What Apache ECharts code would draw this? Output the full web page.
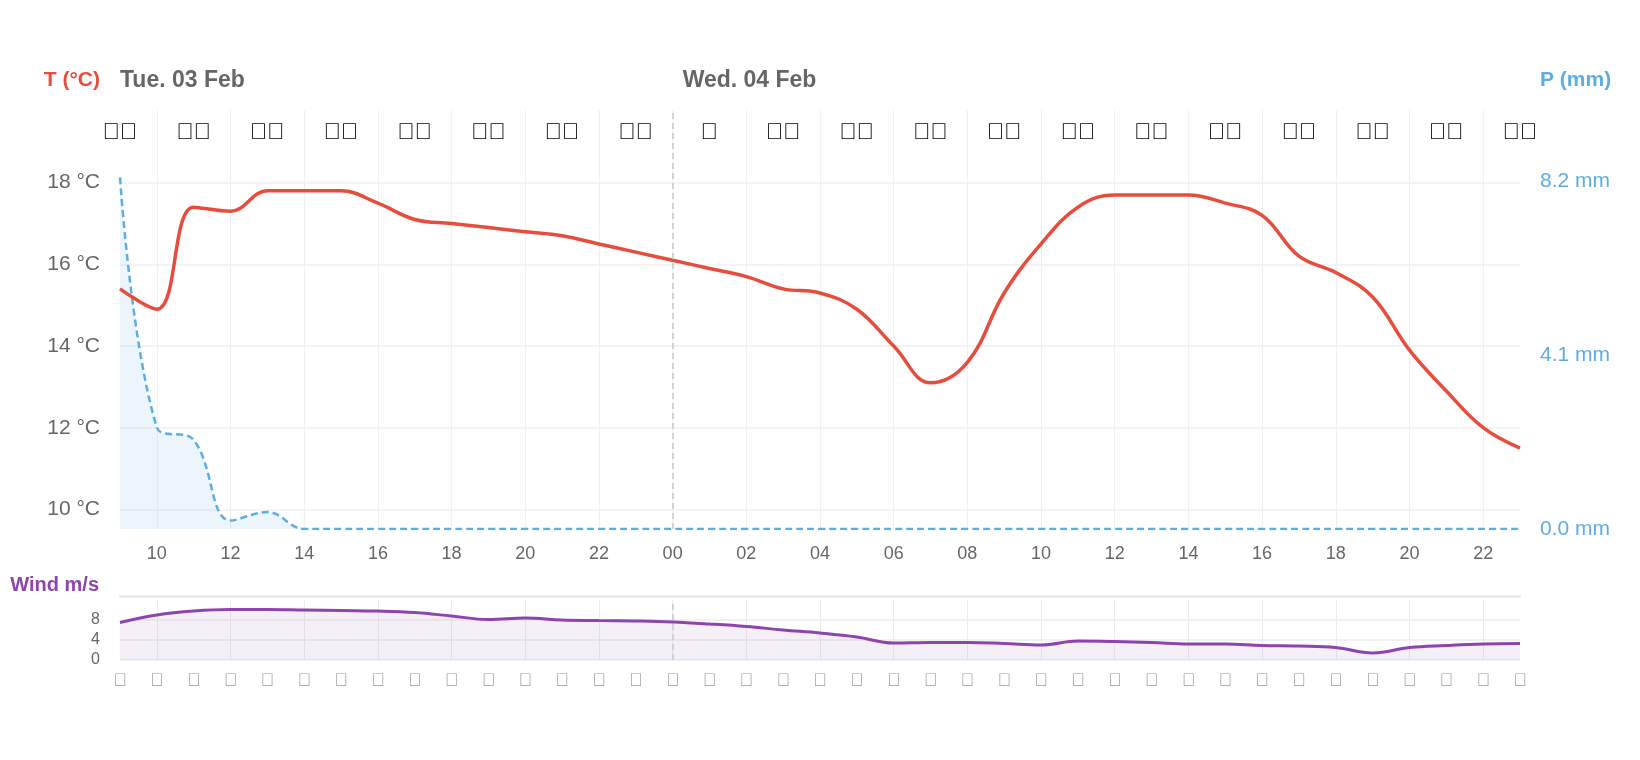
<!DOCTYPE html>
<html>
<head>
<meta charset="utf-8">
<script src="https://cdn.jsdelivr.net/npm/echarts@6/dist/echarts.min.js"></script>
<style>
html,body{margin:0;padding:0;background:#fff;}
#chart{width:1640px;height:760px;}
</style>
</head>
<body>
<div id="chart"></div>
<script>
// ---- data ----
const days = ['03', '04'];
const dayLabels = ['Tue. 03 Feb', 'Wed. 04 Feb'];
const hours = ['09','10','11','12','13','14','15','16','17','18','19','20','21','22','23',
  '00','01','02','03','04','05','06','07','08','09','10','11','12','13','14','15','16','17','18','19','20','21','22','23'];
const temperature = [15.4,14.9,17.4,17.3,17.8,17.8,17.8,17.5,17.1,17.0,16.9,16.8,16.7,16.5,16.3,
  16.1,15.9,15.7,15.4,15.3,14.9,14.0,13.1,13.6,15.3,16.5,17.4,17.7,17.7,17.7,17.5,17.2,16.2,15.8,15.2,13.9,12.9,12.0,11.5];
const precipitation = [8.3,2.4,2.1,0.2,0.4,0,0,0,0,0,0,0,0,0,0,
  0,0,0,0,0,0,0,0,0,0,0,0,0,0,0,0,0,0,0,0,0,0,0,0];
const wind = [7.5,9.0,9.8,10.1,10.1,10.0,9.9,9.8,9.5,8.8,8.1,8.4,8.0,7.9,7.8,
  7.6,7.2,6.7,6.0,5.4,4.6,3.4,3.5,3.5,3.3,3.0,3.8,3.7,3.5,3.2,3.2,2.9,2.8,2.5,1.4,2.5,2.9,3.2,3.3];
// weather symbols (icon-font glyphs) every two hours, odd hours
const symbols = ['\uE019\uE01A','\uE019\uE01A','\uE009\uE01A','\uE013\uE01A','\uE013\uE01A','\uE013\uE01A','\uE013\uE01A','\uE013\uE01A',
  '\uE02E','\uE013\uE01A','\uE013\uE01A','\uE013\uE01A','\uE002\uE01A','\uE002\uE01A','\uE002\uE01A','\uE002\uE01A',
  '\uE013\uE01A','\uE013\uE01A','\uE013\uE01A','\uE013\uE01A'];
// wind direction glyphs (icon font) per hour
const windDir = ['\uE0B1','\uE0B1','\uE0B1','\uE0B1','\uE0B1','\uE0B1','\uE0B1','\uE0B1','\uE0B1','\uE0B1','\uE0B1','\uE0B1','\uE0B1','\uE0B1','\uE0B1',
  '\uE0B1','\uE0B1','\uE0B1','\uE0B1','\uE0B1','\uE0B1','\uE0B1','\uE0B1','\uE0B1','\uE0B1','\uE0B1','\uE0B1','\uE0B1','\uE0B1','\uE0B1',
  '\uE0B1','\uE0B1','\uE0B1','\uE0B1','\uE0B1','\uE0B1','\uE0B1','\uE0B1','\uE0B1'];
const tempTicks = [10, 12, 14, 16, 18];
const precipTicks = [0, 4.1, 8.2];
const windTicks = [0, 4, 8];

// ---- derived ----
let d = 0;
const times = hours.map((h, i) => { if (i > 0 && h === '00') d++; return days[d] + ' ' + h; });
const midnight = times[hours.indexOf('00')];
const dayStart = [times[0], midnight];

const FONT = '"Liberation Sans", Arial, Helvetica, sans-serif';
const RED = '#e74c3c', BLUE = '#5dade2', PURPLE = '#8e44ad', GRAY = '#666';

const chart = echarts.init(document.getElementById('chart'));
const midLine = {
  symbol: 'none', silent: true, label: { show: false },
  lineStyle: { color: '#d2d2d6', type: [6, 4], width: 2 },
  data: [{ xAxis: midnight }]
};
chart.setOption({
  animation: false,
  textStyle: { fontFamily: FONT },
  grid: [
    { left: 120, right: 120, top: 110, height: 419 },
    { left: 120, right: 120, top: 600, height: 60 }
  ],
  xAxis: [
    { type: 'category', gridIndex: 0, data: times, boundaryGap: false,
      axisLine: { show: false, onZero: false }, axisTick: { show: false },
      axisLabel: { interval: (i) => i % 2 === 1, formatter: v => v.slice(3), color: GRAY, fontSize: 18, margin: 16, fontFamily: FONT },
      splitLine: { show: true, interval: (i) => i % 2 === 1, lineStyle: { color: '#f0f0f0', width: 1 } } },
    { type: 'category', gridIndex: 0, data: times, boundaryGap: false, position: 'top',
      axisLine: { show: false, onZero: false }, axisTick: { show: false },
      axisLabel: { interval: (i) => dayStart.indexOf(times[i]) >= 0,
        formatter: v => { const k = dayStart.indexOf(v); return k === 0 ? '{a|' + dayLabels[0] + '}' : (k > 0 ? '{b|' + dayLabels[k] + '}' : ''); },
        align: 'left', margin: 18, showMinLabel: true,
        rich: { a: { color: GRAY, fontSize: 23, fontWeight: 'bold', fontFamily: FONT },
                b: { color: GRAY, fontSize: 23, fontWeight: 'bold', fontFamily: FONT, padding: [0, 0, 0, 10] } } },
      splitLine: { show: false } },
    { type: 'category', gridIndex: 0, data: times, boundaryGap: false, position: 'top',
      axisLine: { show: false, onZero: false }, axisTick: { show: false },
      axisLabel: { inside: true, interval: (i) => i % 2 === 0,
        formatter: (v, i) => symbols[i / 2], color: '#000', fontSize: 23, fontWeight: 'bold', margin: 11, showMinLabel: true, showMaxLabel: true },
      splitLine: { show: false } },
    { type: 'category', gridIndex: 1, data: times, boundaryGap: false,
      axisLine: { show: false, onZero: false }, axisTick: { show: false },
      axisLabel: { interval: 0, formatter: (v, i) => windDir[i], color: '#999', fontSize: 18, margin: 12, showMinLabel: true, showMaxLabel: true },
      splitLine: { show: true, interval: (i) => i % 2 === 1, lineStyle: { color: '#ececec', width: 1 } } },
    { type: 'category', gridIndex: 1, data: times, boundaryGap: false, position: 'top', offset: 4,
      axisLine: { show: true, onZero: false, lineStyle: { color: '#e6e6e6', width: 2.5 } }, axisTick: { show: false },
      axisLabel: { show: false }, splitLine: { show: false } }
  ],
  yAxis: [
    { type: 'value', gridIndex: 0, min: 9.52, max: 19.78,
      name: 'T (°C)', nameLocation: 'end', nameGap: 19,
      nameTextStyle: { color: RED, fontSize: 21, fontWeight: 'bold', align: 'right', padding: [0, 20, 0, 0], fontFamily: FONT },
      axisLine: { show: false }, axisTick: { show: false, customValues: tempTicks },
      axisLabel: { customValues: tempTicks, formatter: '{value} °C', color: GRAY, fontSize: 21, margin: 20, fontFamily: FONT },
      splitLine: { show: true, lineStyle: { color: '#f0f0f0', width: 1.5 } } },
    { type: 'value', gridIndex: 0, min: 0, max: 9.89, position: 'right',
      name: 'P (mm)', nameLocation: 'end', nameGap: 19,
      nameTextStyle: { color: BLUE, fontSize: 21, fontWeight: 'bold', align: 'left', padding: [0, 0, 0, 20], fontFamily: FONT },
      axisLine: { show: false }, axisTick: { show: false, customValues: precipTicks },
      axisLabel: { customValues: precipTicks, formatter: v => v.toFixed(1) + ' mm', color: BLUE, fontSize: 21, margin: 20, fontFamily: FONT },
      splitLine: { show: false } },
    { type: 'value', gridIndex: 1, min: 0, max: 12,
      name: 'Wind m/s', nameLocation: 'end', nameGap: 5,
      nameTextStyle: { color: PURPLE, fontSize: 20, fontWeight: 'bold', align: 'right', padding: [0, 21, 0, 0], fontFamily: FONT },
      axisLine: { show: false }, axisTick: { show: false, customValues: windTicks },
      axisLabel: { customValues: windTicks, color: GRAY, fontSize: 16, margin: 20, fontFamily: FONT },
      splitLine: { show: true, lineStyle: { color: '#ececec', width: 1.5 } } }
  ],
  series: [
    { name: 'Precipitation', type: 'line', xAxisIndex: 0, yAxisIndex: 1, data: precipitation,
      smooth: 0.4, showSymbol: false, z: 2,
      lineStyle: { color: BLUE, width: 2.5, type: [7, 4] },
      areaStyle: { color: 'rgba(93,173,226,0.18)' },
      markLine: midLine },
    { name: 'Temperature', type: 'line', xAxisIndex: 0, yAxisIndex: 0, data: temperature,
      smooth: 0.4, showSymbol: false, z: 3,
      lineStyle: { color: RED, width: 3.5 } },
    { name: 'Wind', type: 'line', xAxisIndex: 3, yAxisIndex: 2, data: wind,
      smooth: 0.4, showSymbol: false,
      lineStyle: { color: PURPLE, width: 3 },
      areaStyle: { color: 'rgba(142,68,173,0.12)' },
      markLine: midLine }
  ]
});
</script>
</body>
</html>
